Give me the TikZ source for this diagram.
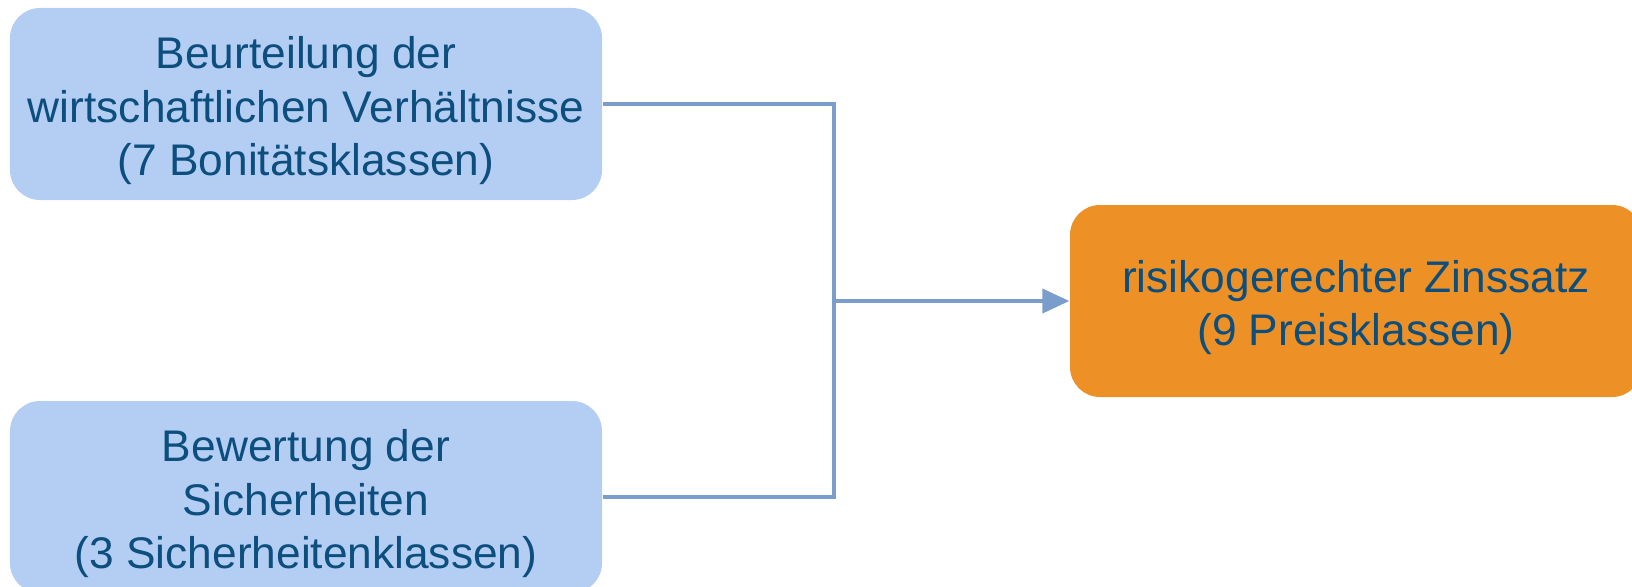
\documentclass[tikz,border=0pt]{standalone}
\usepackage{fontspec}
\setmainfont{Liberation Sans}
\usepackage{xcolor}
\usetikzlibrary{arrows.meta}

\definecolor{boxblue}{RGB}{180,205,242}
\definecolor{boxorange}{RGB}{237,145,39}
\definecolor{textblue}{RGB}{12,78,125}
\definecolor{lineblue}{RGB}{123,157,203}

\begin{document}
\begin{tikzpicture}[
		inbox/.style = {rectangle, rounded corners = 0.3cm, fill = boxblue, text = textblue, align = center, inner sep = 0pt, minimum width = 5.92cm, minimum height = 1.92cm, font = \fontsize{12.6pt}{15.2pt}\selectfont},
		outbox/.style = {inbox, fill = boxorange, minimum width = 5.72cm},
		link/.style = {draw = lineblue, line width = 0.042cm}
	]
			\useasboundingbox (0,0) rectangle (16.32,-5.86);

			\node[inbox] (bonitaet) at (3.06,-1.04) {\rule{0pt}{13pt}Beurteilung der\\wirtschaftlichen Verhältnisse\\(7 Bonitätsklassen)};
			\node[inbox] (sicher) at (3.06,-4.97) {\rule{0pt}{13pt}Bewertung der\\Sicherheiten\\(3 Sicherheitenklassen)};
			\node[outbox] (zins) at (13.56,-3.01) {\rule{0pt}{13pt}risikogerechter Zinssatz\\(9 Preisklassen)};

			\coordinate (join) at (8.34,-3.01);

			\draw[link] (bonitaet.east) -- (bonitaet.east -| join) -- (sicher.east -| join) -- (sicher.east);
			\draw[link, -{Triangle[length = 0.27cm, width = 0.24cm]}] (join) -- (zins.west);
		\end{tikzpicture}
\end{document}
